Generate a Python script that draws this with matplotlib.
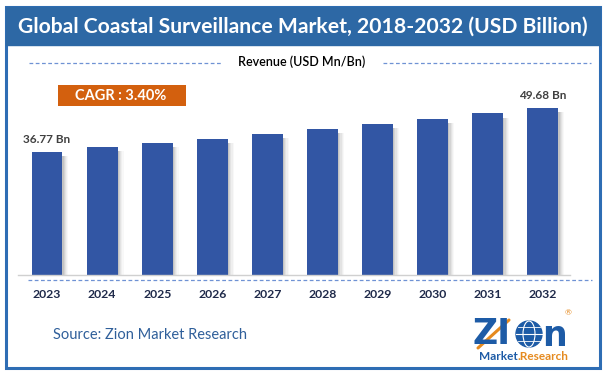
import matplotlib
matplotlib.use("Agg")
import matplotlib.pyplot as plt
from matplotlib.patches import Rectangle, Circle, Ellipse

plt.rcParams['font.family'] = ['Lato', 'DejaVu Sans']

years = ["2023", "2024", "2025", "2026", "2027", "2028", "2029", "2030", "2031", "2032"]
revenue = [36.77, 38.0, 39.3, 40.6, 41.9, 43.4, 44.9, 46.4, 48.1, 49.68]
label_first = "36.77 Bn"
label_last = "49.68 Bn"
title = "Global Coastal Surveillance Market, 2018-2032 (USD Billion)"
subtitle = "Revenue (USD Mn/Bn)"
cagr = "CAGR : 3.40%"
source = "Source: Zion Market Research"

W, H = 606, 376
fig = plt.figure(figsize=(W / 100, H / 100), dpi=100)
fig.patch.set_facecolor("white")

# overlay in pixel coords
ov = fig.add_axes([0, 0, 1, 1])
ov.set_xlim(0, W)
ov.set_ylim(H, 0)
ov.axis("off")

frame_col = "#2e6db4"
band_col = "#2d68a5"
ov.add_patch(Rectangle((6, 7), 594, 361, fill=False, ec=frame_col, lw=2.2, zorder=1))
ov.add_patch(Rectangle((6, 7), 594, 38, fc=band_col, ec=band_col, lw=1, zorder=2))
ov.text(303, 27, title, color="white", fontsize=15.2, fontweight="bold",
        ha="center", va="center", zorder=3)
ov.text(302, 62, subtitle, color="black", fontsize=9, fontweight="semibold",
        ha="center", va="center")
ov.plot([29, 222], [63, 63], ls=(0, (3, 2)), color="#6f92d4", lw=0.9)
ov.plot([383, 591], [63, 63], ls=(0, (3, 2)), color="#6f92d4", lw=0.9)

ov.add_patch(Rectangle((58, 85), 128, 21, fc="#d3600e", ec="none"))
ov.text(121, 96, cagr, color="white", fontsize=10.5, fontweight="bold",
        ha="center", va="center")

ov.plot([28, 592], [279.5, 279.5], ls=(0, (3, 2)), color="#6f92d4", lw=0.9)

ov.text(53, 335, source, color="#2f5f9a", fontsize=10.5, ha="left", va="center")

# logo (approximation)
logo_blue = "#1d5ba6"
logo_orange = "#e58a1f"
ov.text(472, 334, "ZI", color=logo_blue, fontsize=25, fontweight="black",
        ha="left", va="center", family=["DejaVu Sans"])
ov.plot([478, 509], [348, 320], color=logo_orange, lw=2.2, solid_capstyle="round")
ov.add_patch(Circle((529, 334), 13, fc=logo_blue, ec=logo_blue, zorder=5))
ov.add_patch(Ellipse((529, 334), 12, 26, fill=False, ec="white", lw=0.8, zorder=6))
ov.plot([516, 542], [334, 334], color="white", lw=0.8, zorder=6)
ov.plot([518, 540], [327, 327], color="white", lw=0.6, zorder=6)
ov.plot([518, 540], [341, 341], color="white", lw=0.6, zorder=6)
ov.text(542, 336, "n", color=logo_blue, fontsize=25, fontweight="black",
        ha="left", va="center", family=["DejaVu Sans"])
ov.text(518, 357, "Market", color=logo_blue, fontsize=8.5, fontweight="bold",
        ha="right", va="center")
ov.text(518, 357, ".Research", color=logo_orange, fontsize=8.5, fontweight="bold",
        ha="left", va="center")
ov.text(568, 313, "®", color=logo_orange, fontsize=6, ha="center", va="center")

# bar axes in pixel-defined position
left_px, right_px, top_px, bottom_px = 18, 570, 100, 275
ax = fig.add_axes([left_px / W, 1 - bottom_px / H, (right_px - left_px) / W,
                   (bottom_px - top_px) / H])
ax.patch.set_alpha(0)
x = list(range(len(years)))
spacing = 55.1
a = -(47 - left_px) / spacing
ax.set_xlim(a, a + (right_px - left_px) / spacing)
ax.set_ylim(0, (bottom_px - top_px) / 3.358)

bw = 0.56
# shadow
for k, alpha in enumerate([0.35, 0.25, 0.16, 0.09, 0.04]):
    off = bw / 2 + (k + 0.5) * 0.022
    ax.bar([xi + off for xi in x], [v - 1.2 for v in revenue], width=0.022,
           color="#555555", alpha=alpha, lw=0, zorder=1)
ax.bar(x, revenue, width=bw, color="#3256a4", lw=0, zorder=2)

ax.text(x[0], revenue[0] + 2.0, label_first, ha="center", va="bottom",
        fontsize=8.5, fontweight="bold", color="#404040")
ax.text(x[-1], revenue[-1] + 2.0, label_last, ha="center", va="bottom",
        fontsize=8.5, fontweight="bold", color="#404040")

for s in ["top", "right", "left"]:
    ax.spines[s].set_visible(False)
ax.spines["bottom"].set_color("#d0d0d0")
ax.spines["bottom"].set_linewidth(1)
ax.set_yticks([])
ax.set_xticks(x)
ax.set_xticklabels(years, fontsize=8.8, fontweight="bold", color="#1f2a4a")
ax.tick_params(axis="x", length=0, pad=10)

fig.savefig("out.png", dpi=100, facecolor="white")
